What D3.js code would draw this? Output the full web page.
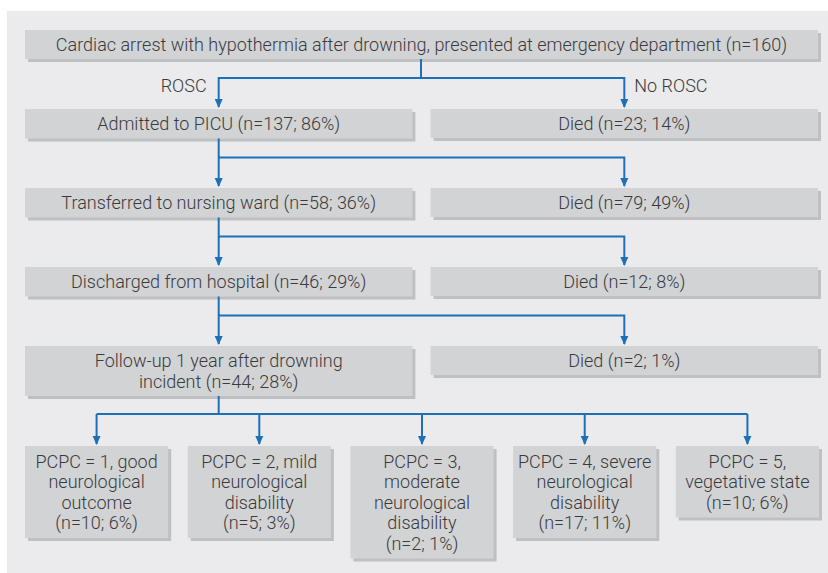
<!doctype html>
<html>
	<head>
		<style>
			body { margin: 0; background: #fff; }
			#chart text {
				font-family: Roboto, "DejaVu Sans", sans-serif;
				font-size: 18px;
				font-weight: 300;
				fill: #3a3a3c;
			}
		</style>
	</head>
	<body>
		<svg id="chart"></svg>
		<script src="https://d3js.org/d3.v7.min.js"></script>
		<script>
			var topLabel = "Cardiac arrest with hypothermia after drowning, presented at emergency department";
			var topN = 160;
			var branchLabels = ["ROSC", "No ROSC"];

			// left column stages
			var stageLines = [
				["Admitted to PICU"],
				["Transferred to nursing ward"],
				["Discharged from hospital"],
				["Follow-up 1 year after drowning", "incident"]
			];
			var stageN = [137, 58, 46, 44];
			var stagePct = [86, 36, 29, 28];

			// right column deaths
			var diedN = [23, 79, 12, 2];
			var diedPct = [14, 49, 8, 1];

			// outcome boxes at the bottom
			var pcpcLines = [
				["PCPC = 1, good", "neurological", "outcome"],
				["PCPC = 2, mild", "neurological", "disability"],
				["PCPC = 3,", "moderate", "neurological", "disability"],
				["PCPC = 4, severe", "neurological", "disability"],
				["PCPC = 5,", "vegetative state"]
			];
			var pcpcN = [10, 5, 2, 17, 10];
			var pcpcPct = [6, 3, 1, 11, 6];

			var width = 828, height = 573;
			var lineH = 20.5;
			var blue = "#1d70b7";

			var svg = d3.select("#chart")
				.attr("width", width)
				.attr("height", height);

			svg.append("rect")
				.attr("x", 7).attr("y", 11)
				.attr("width", width - 7).attr("height", height - 11)
				.attr("fill", "#ebebed");

			// scales for the layout
			var col = d3.scaleBand().domain(["left", "right"]).range([25, 818]).paddingInner(0.045);
			var row = d3.scalePoint().domain(d3.range(stageN.length)).range([109, 346]);
			var out = d3.scaleBand().domain(d3.range(pcpcN.length)).range([25, 819]).paddingInner(0.12);

			function box(x, y, w, h, lines) {
				var g = svg.append("g");
				g.append("rect").attr("x", x + 3).attr("y", y + 3).attr("width", w).attr("height", h).attr("fill", "#bfc0c2");
				g.append("rect").attr("x", x).attr("y", y).attr("width", w).attr("height", h).attr("fill", "#d2d3d5");
				var y0 = y + h / 2 - (lines.length - 1) * lineH / 2;
				g.selectAll("text")
					.data(lines)
					.enter().append("text")
					.attr("x", x + w / 2)
					.attr("y", function(d, i) { return y0 + i * lineH; })
					.attr("dy", ".35em")
					.attr("text-anchor", "middle")
					.text(function(d) { return d; });
			}

			function arrow(x, yTip) {
				svg.append("path")
					.attr("d", "M" + (x - 4) + "," + (yTip - 9) + "L" + (x + 4) + "," + (yTip - 9) + "L" + x + "," + yTip + "Z")
					.attr("fill", blue);
			}

			function line(pts) {
				svg.append("path")
					.attr("d", d3.line()(pts))
					.attr("fill", "none")
					.attr("stroke", blue)
					.attr("stroke-width", 2);
			}

			var lx = col("left") + col.bandwidth() / 2,
				rx = col("right") + col.bandwidth() / 2;
			var rowH = function(i) { return stageLines[i].length * lineH + 9; };

			// top box
			box(25, 30, 793, 29, [topLabel + " (n=" + topN + ")"]);
			line([[421, 59], [421, 78]]);
			line([[lx, 107], [lx, 78], [rx, 78], [rx, 107]]);
			arrow(lx, 108); arrow(rx, 108);
			svg.append("text").attr("x", lx - 12).attr("y", 86).attr("dy", ".35em").attr("text-anchor", "end").text(branchLabels[0]);
			svg.append("text").attr("x", rx + 10).attr("y", 86).attr("dy", ".35em").text(branchLabels[1]);

			stageN.forEach(function(n, i) {
				var y = row(i);
				box(col("left"), y, col.bandwidth(), rowH(i), stageLines[i].slice(0, -1).concat(
					[stageLines[i][stageLines[i].length - 1] + " (n=" + n + "; " + stagePct[i] + "%)"]));
				box(col("right"), y, col.bandwidth(), 29, ["Died (n=" + diedN[i] + "; " + diedPct[i] + "%)"]);
				if (i < stageN.length - 1) {
					var yb = y + rowH(i), yn = row(i + 1), yh = yb + 19;
					line([[lx, yb], [lx, yn - 2]]);
					line([[lx, yh], [rx, yh], [rx, yn - 2]]);
					arrow(lx, yn - 1); arrow(rx, yn - 1);
				}
			});

			// bottom outcome boxes
			var last = stageN.length - 1;
			var yb = row(last) + rowH(last), yh = yb + 18, yTop = 446;
			line([[lx, yb], [lx, yh]]);
			var cx = function(i) { return out(i) + out.bandwidth() / 2; };
			line([[cx(0), yh], [cx(pcpcN.length - 1), yh]]);
			pcpcN.forEach(function(n, i) {
				line([[cx(i), yh], [cx(i), yTop - 2]]);
				arrow(cx(i), yTop - 1);
				var lines = pcpcLines[i].concat(["(n=" + n + "; " + pcpcPct[i] + "%)"]);
				box(out(i), yTop, out.bandwidth(), lines.length * lineH + 10, lines);
			});
		</script>
	</body>
</html>
